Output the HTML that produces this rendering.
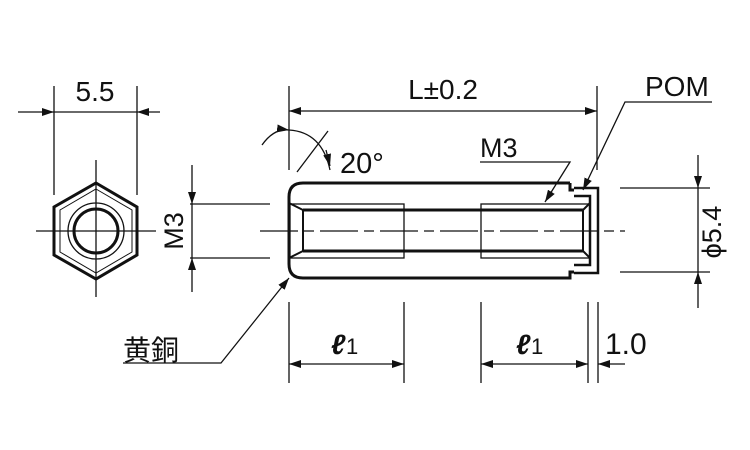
<!DOCTYPE html>
<html><head><meta charset="utf-8"><style>
html,body{margin:0;padding:0;background:#fff;}
svg{display:block;}
text{font-family:"Liberation Sans","Noto Sans CJK JP",sans-serif;fill:#111;}
</style></head><body>
<svg width="750" height="450" viewBox="0 0 750 450" xmlns="http://www.w3.org/2000/svg">
<defs>
<marker id="a" viewBox="0 0 12 8" refX="12" refY="4" markerWidth="12" markerHeight="8" markerUnits="userSpaceOnUse" orient="auto"><path d="M0,0L12,4L0,8z" fill="#111"/></marker>
</defs>
<g stroke="#111" fill="none" stroke-width="1.3">
<line x1="54" y1="86" x2="54" y2="195"/><line x1="137" y1="86" x2="137" y2="195"/>
<line x1="18" y1="112" x2="54" y2="112" marker-end="url(#a)"/>
<line x1="54" y1="112" x2="137" y2="112"/>
<line x1="160" y1="112" x2="137" y2="112" marker-end="url(#a)"/>
<polygon points="96,183 137,207 137,255 96,279 54,255 54,207" stroke-width="3"/>
<polygon points="96,189 132,210 132,252 96,273 60,252 60,210" stroke-width="1"/>
<circle cx="96" cy="231" r="28"/>
<circle cx="96" cy="231" r="22" stroke-width="3"/>
<line x1="36" y1="231" x2="156" y2="231"/>
<line x1="96" y1="160" x2="96" y2="297"/>
<line x1="190" y1="204" x2="270" y2="204"/><line x1="190" y1="258" x2="270" y2="258"/>
<line x1="192" y1="165" x2="192" y2="204" marker-end="url(#a)"/>
<line x1="192" y1="204" x2="192" y2="258"/>
<line x1="192" y1="292" x2="192" y2="258" marker-end="url(#a)"/>
<line x1="260" y1="231" x2="625" y2="231" stroke-dasharray="38,6,10,6"/>
<path d="M570,183 H303 Q289,183 289,197 V264 Q289,278 303,278 H570 V272 H574" stroke-width="3"/>
<path d="M570,183 V190 H574" stroke-width="3"/>
<line x1="303" y1="210" x2="583" y2="210" stroke-width="3"/>
<line x1="303" y1="251" x2="583" y2="251" stroke-width="3"/>
<line x1="303" y1="210" x2="303" y2="251" stroke-width="2"/>
<line x1="289" y1="203" x2="303" y2="210" stroke-width="2"/>
<line x1="289" y1="258" x2="303" y2="251" stroke-width="2"/>
<rect x="290" y="204" width="114" height="54"/>
<rect x="481" y="204" width="109" height="54"/>
<path d="M574,188 H598 V273 H574" stroke-width="2.5"/>
<path d="M574,196 H590 V265 H574" stroke-width="2.5"/>
<line x1="583" y1="210" x2="590" y2="203" stroke-width="2"/>
<line x1="583" y1="251" x2="590" y2="258" stroke-width="2"/>
<line x1="583" y1="210" x2="583" y2="251" stroke-width="2"/>
<line x1="289" y1="86" x2="289" y2="170"/><line x1="597" y1="86" x2="597" y2="170"/>
<line x1="440" y1="111" x2="289" y2="111" marker-end="url(#a)"/>
<line x1="440" y1="111" x2="597" y2="111" marker-end="url(#a)"/>
<path d="M262,145 Q274,128 289,130" marker-end="url(#a)"/>
<path d="M289,130 Q322,132 330,170"/>
<line x1="326" y1="150" x2="330" y2="166" marker-end="url(#a)"/>
<line x1="297" y1="172" x2="328" y2="131"/>
<line x1="620" y1="188" x2="710" y2="188"/><line x1="620" y1="272" x2="710" y2="272"/>
<line x1="698" y1="155" x2="698" y2="188" marker-end="url(#a)"/>
<line x1="698" y1="188" x2="698" y2="272"/>
<line x1="698" y1="308" x2="698" y2="272" marker-end="url(#a)"/>
<line x1="289" y1="302" x2="289" y2="383"/><line x1="404" y1="302" x2="404" y2="383"/>
<line x1="481" y1="302" x2="481" y2="383"/><line x1="588" y1="302" x2="588" y2="383"/>
<line x1="598" y1="302" x2="598" y2="383"/>
<line x1="345" y1="364" x2="289" y2="364" marker-end="url(#a)"/>
<line x1="345" y1="364" x2="404" y2="364" marker-end="url(#a)"/>
<line x1="535" y1="364" x2="481" y2="364" marker-end="url(#a)"/>
<line x1="535" y1="364" x2="588" y2="364" marker-end="url(#a)"/>
<line x1="625" y1="364" x2="598" y2="364" marker-end="url(#a)"/>
<polyline points="123,363 221,363 289,278" marker-end="url(#a)"/>
<polyline points="480,162 570,162 545,202" marker-end="url(#a)"/>
<polyline points="712,102 625,102 583,190" marker-end="url(#a)"/>
</g>
<g font-size="28">
<text x="95" y="101" text-anchor="middle">5.5</text>
<text x="443" y="99" text-anchor="middle">L±0.2</text>
<text x="340" y="173" font-size="29">20°</text>
<text x="480" y="157" font-size="27">M3</text>
<text x="645" y="96" font-size="28">POM</text>
<text transform="translate(183,231) rotate(-90)" text-anchor="middle" font-size="27">M3</text>
<text transform="translate(721,232) rotate(-90)" text-anchor="middle" font-size="27">ϕ5.4</text>
<text x="123" y="360" font-size="28">黄銅</text>
<text x="331" y="354" font-style="italic" font-weight="bold" font-family="Liberation Serif">ℓ</text>
<text x="346" y="354" font-size="22">1</text>
<text x="516" y="354" font-style="italic" font-weight="bold" font-family="Liberation Serif">ℓ</text>
<text x="531" y="354" font-size="22">1</text>
<text x="605" y="354" font-size="30">1.0</text>
</g>
</svg>
</body></html>
